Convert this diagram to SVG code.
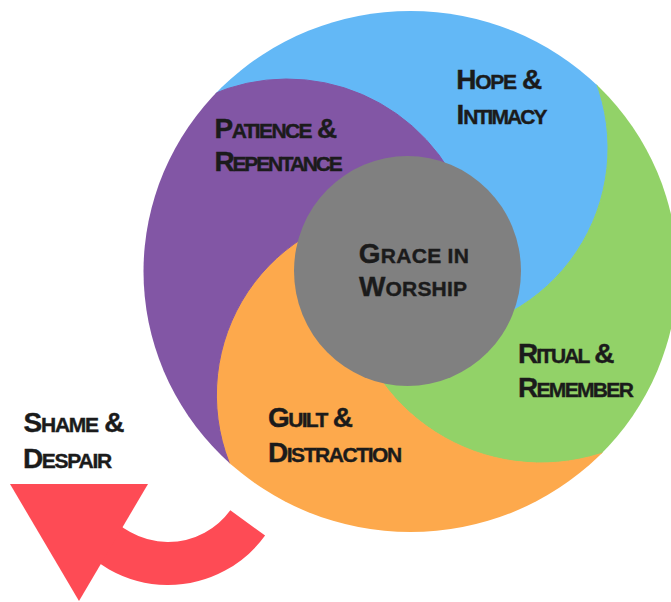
<svg xmlns="http://www.w3.org/2000/svg" width="671" height="602" viewBox="0 0 671 602">
  <defs>
    <style>
      .lbl { font-family: "Liberation Sans", Arial, Helvetica, sans-serif; font-weight: bold; fill: #1b1b1b; stroke: #1b1b1b; stroke-width: 0.4; }
      .cap { font-size: 28px; }
      .sc { font-size: 21px; }
      .seg { stroke-width: 1; stroke-linejoin: round; }
    </style>
    <clipPath id="wheelClip">
      <ellipse cx="410.5" cy="271.5" rx="267" ry="260.5"/>
    </clipPath>
  </defs>

  <rect width="671" height="602" fill="#ffffff"/>

  <!-- swirl wheel: four segments bounded by circular arcs, clipped to the outer disc -->
  <g clip-path="url(#wheelClip)">
    <g id="hope-intimacy">
      <path class="seg" fill="#63b8f6" stroke="#63b8f6"
            d="M192,104.46 L192,-100 L574.2,-100 L574.2,40.7 A187 187 0 0 1 469.4,328.6 L407.5,271 L459.2,188.7 A190 190 0 0 0 192,104.46 Z"/>
    </g>
    <g id="ritual-remember">
      <path class="seg" fill="#92d268" stroke="#92d268"
            d="M574.2,40.7 L750,40.7 L750,436.7 L639,436.7 A196 196 0 0 1 356.8,334 L407.5,271 L469.4,328.6 A187 187 0 0 0 574.2,40.7 Z"/>
    </g>
    <g id="guilt-distraction">
      <path class="seg" fill="#fda94c" stroke="#fda94c"
            d="M639,436.7 L639,700 L250,700 L250,501.5 A185.6 185.6 0 0 1 354,215.7 L407.5,271 L356.8,334 A196 196 0 0 0 639,436.7 Z"/>
    </g>
    <g id="patience-repentance">
      <path class="seg" fill="#8256a5" stroke="#8256a5"
            d="M250,501.5 L-50,501.5 L-50,104.46 L192,104.46 A190 190 0 0 1 459.2,188.7 L407.5,271 L354,215.7 A185.6 185.6 0 0 0 250,501.5 Z"/>
    </g>
  </g>

  <!-- centre hub -->
  <g id="grace-in-worship">
    <ellipse cx="407.5" cy="271" rx="113.5" ry="115" fill="#808080"/>
    <text class="lbl" x="358.8" y="263.3" textLength="110" lengthAdjust="spacing"><tspan class="cap">G</tspan><tspan class="sc">RACE IN</tspan></text>
    <text class="lbl" x="359" y="296" textLength="107.9" lengthAdjust="spacing"><tspan class="cap">W</tspan><tspan class="sc">ORSHIP</tspan></text>
  </g>

  <!-- segment labels -->
  <g id="hope-intimacy-label">
    <text class="lbl" x="456.3" y="88.6" textLength="86" lengthAdjust="spacing"><tspan class="cap">H</tspan><tspan class="sc">OPE</tspan><tspan class="cap"> &amp;</tspan></text>
    <text class="lbl" x="456.5" y="123.6" textLength="91" lengthAdjust="spacing"><tspan class="cap">I</tspan><tspan class="sc" dx="1">NTIMACY</tspan></text>
  </g>
  <g id="patience-repentance-label">
    <text class="lbl" x="214.6" y="138.3" textLength="122.7" lengthAdjust="spacing"><tspan class="cap">P</tspan><tspan class="sc">ATIENCE</tspan><tspan class="cap"> &amp;</tspan></text>
    <text class="lbl" x="214.6" y="170.7" textLength="128.1" lengthAdjust="spacing"><tspan class="cap">R</tspan><tspan class="sc">EPENTANCE</tspan></text>
  </g>
  <g id="ritual-remember-label">
    <text class="lbl" x="517.9" y="363.3" textLength="96.6" lengthAdjust="spacing"><tspan class="cap">R</tspan><tspan class="sc">ITUAL</tspan><tspan class="cap"> &amp;</tspan></text>
    <text class="lbl" x="517.9" y="397.3" textLength="115.9" lengthAdjust="spacing"><tspan class="cap">R</tspan><tspan class="sc">EMEMBER</tspan></text>
  </g>
  <g id="guilt-distraction-label">
    <text class="lbl" x="268.1" y="426.7" textLength="84.8" lengthAdjust="spacing"><tspan class="cap">G</tspan><tspan class="sc">UILT</tspan><tspan class="cap"> &amp;</tspan></text>
    <text class="lbl" x="267.9" y="461.7" textLength="134.3" lengthAdjust="spacing"><tspan class="cap">D</tspan><tspan class="sc">ISTRACTION</tspan></text>
  </g>

  <!-- outside the wheel -->
  <g id="shame-despair">
    <text class="lbl" x="23.6" y="432.3" textLength="101" lengthAdjust="spacing"><tspan class="cap">S</tspan><tspan class="sc">HAME</tspan><tspan class="cap"> &amp;</tspan></text>
    <text class="lbl" x="22.9" y="468.3" textLength="89.3" lengthAdjust="spacing"><tspan class="cap">D</tspan><tspan class="sc">ESPAIR</tspan></text>
  </g>

  <!-- curved arrow leaving the wheel -->
  <g id="connectors" fill="#fe4b55">
    <path d="M247.7,522.9 A98.5 98.5 0 0 1 87.3,521.5" fill="none" stroke="#fe4b55" stroke-width="43"/>
    <polygon points="10,484 148,484 79,601"/>
  </g>
</svg>
